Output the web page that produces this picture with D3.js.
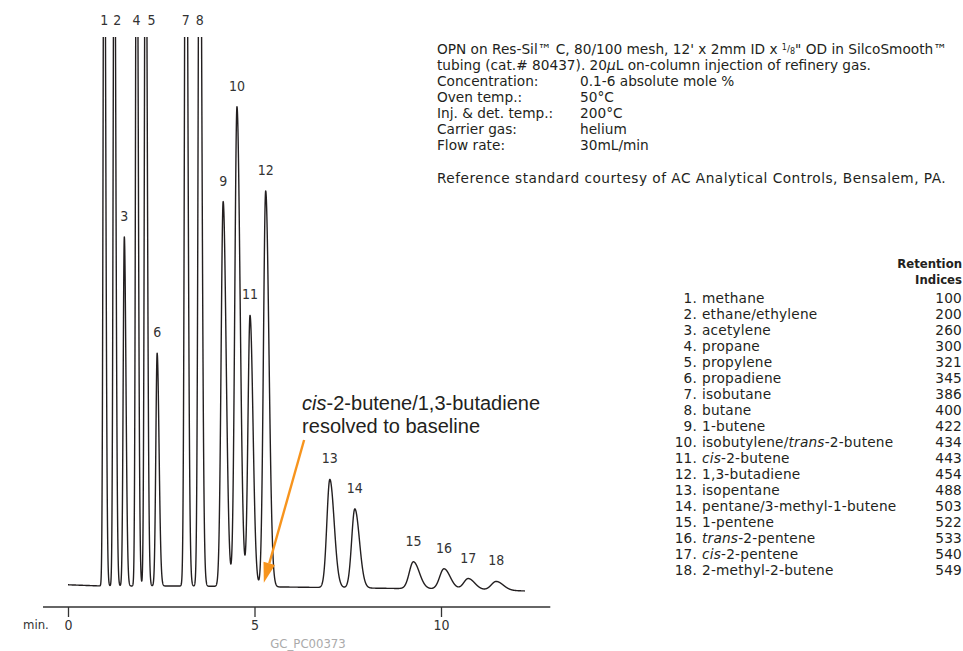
<!DOCTYPE html>
<html>
<head>
<meta charset="utf-8">
<script src="https://cdn.jsdelivr.net/npm/d3@7"></script>
<style>
body { margin: 0; background: #fff; }
svg text { font-family: "DejaVu Sans", sans-serif; fill: #231f20; }
svg text.cond { font-family: "DejaVu Sans Condensed", "DejaVu Sans", sans-serif; font-stretch: condensed; }
svg text.info { font-size: 13.7px; }
svg text.tbl { font-size: 13.7px; letter-spacing: 0.2px; }
svg text.note { font-family: "Liberation Sans", Arial, sans-serif; font-size: 20px; }
</style>
</head>
<body>
<svg id="chart" width="963" height="651"></svg>
<script>
// peaks (time in min, height in % of full scale)
var peakLabels = ["1","2","3","4","5","6","7","8","9","10","11","12","13","14","15","16","17","18"];
var retentionTimes = [0.97, 1.24, 1.51, 1.84, 2.08, 2.39, 3.16, 3.53, 4.16, 4.53, 4.88, 5.30, 7.02, 7.69, 9.26, 10.08, 10.73, 11.48];
var peakHeights = [150, 140, 63.6, 150, 145, 42.4, 160, 155, 70.1, 87.4, 49.4, 72.1, 19.7, 14.4, 4.9, 3.7, 2.0, 1.6];
var peakSigmas = [0.027, 0.028, 0.03, 0.028, 0.03, 0.035, 0.035, 0.038, 0.055, 0.058, 0.055, 0.06, 0.08, 0.085, 0.11, 0.115, 0.12, 0.13];

var baselineTimes = [0, 0.9, 3.0, 6.0, 8.5, 10.5, 12.25];
var baselineLevels = [0.22, 0, 0, -0.2, -0.42, -0.6, -0.9];

var axisTicks = [0, 5, 10];
var axisRange = [-0.67, 12.93];

var compoundNames = ["methane", "ethane/ethylene", "acetylene", "propane", "propylene", "propadiene",
    "isobutane", "butane", "1-butene", "isobutylene/*trans*-2-butene", "*cis*-2-butene", "1,3-butadiene",
    "isopentane", "pentane/3-methyl-1-butene", "1-pentene", "*trans*-2-pentene", "*cis*-2-pentene", "2-methyl-2-butene"];
var retentionIndices = [100, 200, 260, 300, 321, 345, 386, 400, 422, 434, 443, 454, 488, 503, 522, 533, 540, 549];

var conditionLabels = ["Concentration:", "Oven temp.:", "Inj. & det. temp.:", "Carrier gas:", "Flow rate:"];
var conditionValues = ["0.1-6 absolute mole %", "50°C", "200°C", "helium", "30mL/min"];

var svg = d3.select('#chart');
svg.append('rect').attr('width', 963).attr('height', 651).attr('fill', '#fff');

var x = d3.scaleLinear().domain([0, 10]).range([68, 441]);
var y = d3.scaleLinear().domain([0, 100]).range([586, 37]);

svg.append('clipPath').attr('id', 'plotclip')
    .append('rect').attr('x', 0).attr('y', y(100)).attr('width', 963).attr('height', 651 - y(100));

// trace = baseline + peaks
var base = d3.scaleLinear().domain(baselineTimes).range(baselineLevels);
var tailRatio = 1.45;

function signal(t) {
    var v = base(t);
    for (var i = 0; i < retentionTimes.length; i++) {
        var d = t - retentionTimes[i];
        var s = d < 0 ? peakSigmas[i] : peakSigmas[i] * tailRatio;
        if (Math.abs(d) < 10 * s) v += peakHeights[i] * Math.exp(-0.5 * d * d / (s * s));
    }
    return v;
}

var tEnd = baselineTimes[baselineTimes.length - 1];
var trace = d3.range(0, tEnd + 1e-9, 0.002).map(function(t){ return [t, signal(t)]; });

var line = d3.line()
    .x(function(d){ return x(d[0]); })
    .y(function(d){ return y(d[1]); });

svg.append('path')
    .datum(trace)
    .attr('clip-path', 'url(#plotclip)')
    .attr('d', line)
    .attr('fill', 'none')
    .attr('stroke', '#231f20')
    .attr('stroke-width', 1.4)
    .attr('stroke-linejoin', 'round');

// peak numbers (a couple nudged sideways so they don't collide)
var labelNudge = { "2": 3, "5": 6 };
svg.selectAll('.peaklabel')
    .data(peakLabels)
    .enter().append('text')
    .attr('class', 'peaklabel cond')
    .attr('x', function(d, i){ return x(retentionTimes[i]) + (labelNudge[d] || 0); })
    .attr('y', function(d, i){
        var top = peakHeights[i] + base(retentionTimes[i]);
        return top > 100 ? y(100) - 12 : y(top) - 16;
    })
    .attr('text-anchor', 'middle')
    .style('font-size', '14px')
    .style('fill', '#333')
    .text(function(d){ return d; });

// x axis
var axisY = 607;
svg.append('line')
    .attr('x1', x(axisRange[0])).attr('x2', x(axisRange[1]))
    .attr('y1', axisY).attr('y2', axisY)
    .attr('stroke', '#333').attr('stroke-width', 1.3);

var axis = d3.axisBottom(x).tickValues(axisTicks).tickSize(10).tickPadding(3);
var gAxis = svg.append('g').attr('transform', 'translate(0,' + axisY + ')').call(axis);
gAxis.select('.domain').remove();
gAxis.selectAll('.tick line').attr('stroke', '#333').attr('stroke-width', 1.3);
gAxis.selectAll('.tick text')
    .attr('class', 'cond')
    .style('font-size', '14px').style('fill', '#333');

svg.append('text')
    .attr('class', 'cond')
    .attr('x', x(axisRange[0]) - 20).attr('y', 629)
    .style('font-size', '13px').style('fill', '#333')
    .text('min.');

svg.append('text')
    .attr('class', 'cond')
    .attr('x', 308).attr('y', 647.5)
    .attr('text-anchor', 'middle')
    .style('font-size', '13px').style('fill', '#aaa')
    .text('GC_PC00373');

// annotation arrow
var arrowTail = [6.33, 26.6], arrowTip = [5.25, 0.6];
var ax1 = x(arrowTail[0]), ay1 = y(arrowTail[1]), ax2 = x(arrowTip[0]), ay2 = y(arrowTip[1]);
var ang = Math.atan2(ay2 - ay1, ax2 - ax1);
var headLen = 20, headW = 6;
var bx = ax2 - headLen * Math.cos(ang), by = ay2 - headLen * Math.sin(ang);
svg.append('line')
    .attr('x1', ax1).attr('y1', ay1).attr('x2', bx).attr('y2', by)
    .attr('stroke', '#f7941d').attr('stroke-width', 2.4);
svg.append('path')
    .attr('d', 'M' + ax2 + ',' + ay2 +
        'L' + (bx + headW * Math.sin(ang)) + ',' + (by - headW * Math.cos(ang)) +
        'L' + (bx - headW * Math.sin(ang)) + ',' + (by + headW * Math.cos(ang)) + 'Z')
    .attr('fill', '#f7941d');

var note = svg.append('g').attr('transform', 'translate(' + (ax1 - 2) + ',0)');
var n1 = note.append('text').attr('class', 'note').attr('x', 0).attr('y', 410);
n1.append('tspan').style('font-style', 'italic').text('cis');
n1.append('tspan').text('-2-butene/1,3-butadiene');
note.append('text').attr('class', 'note').attr('x', 0).attr('y', 433)
    .text('resolved to baseline');

// conditions text block
var info = svg.append('g');
var l1 = info.append('text').attr('class', 'info').attr('x', 437).attr('y', 54);
l1.append('tspan').text('OPN on Res-Sil™ C, 80/100 mesh, 12\' x 2mm ID x ');
l1.append('tspan').attr('dy', -4).style('font-size', '8px').text('1');
l1.append('tspan').attr('dy', 2).style('font-size', '9px').text('/');
l1.append('tspan').attr('dy', 2).style('font-size', '8px').text('8');
l1.append('tspan').text('" OD in SilcoSmooth™');
var l2 = info.append('text').attr('class', 'info').attr('x', 437).attr('y', 70);
l2.append('tspan').text('tubing (cat.# 80437). 20');
l2.append('tspan').style('font-style', 'italic').text('μ');
l2.append('tspan').text('L on-column injection of refinery gas.');

conditionLabels.forEach(function(lab, i){
    info.append('text').attr('class', 'info').attr('x', 437).attr('y', 86 + i * 16).text(lab);
    info.append('text').attr('class', 'info').attr('x', 580).attr('y', 86 + i * 16).text(conditionValues[i]);
});
info.append('text').attr('class', 'info').attr('x', 437).attr('y', 183)
    .style('letter-spacing', '0.48px')
    .text('Reference standard courtesy of AC Analytical Controls, Bensalem, PA.');

// compound table
var tbl = svg.append('g');
tbl.append('text').attr('class', 'cond').attr('x', 962).attr('y', 268).attr('text-anchor', 'end')
    .style('font-size', '13px').style('font-weight', 'bold').text('Retention');
tbl.append('text').attr('class', 'cond').attr('x', 962).attr('y', 284).attr('text-anchor', 'end')
    .style('font-size', '13px').style('font-weight', 'bold').text('Indices');

var rows = tbl.selectAll('.row').data(compoundNames).enter().append('g').attr('class', 'row')
    .attr('transform', function(d, i){ return 'translate(0,' + (303 + i * 16) + ')'; });
rows.append('text').attr('class', 'tbl').attr('x', 697).attr('text-anchor', 'end')
    .text(function(d, i){ return peakLabels[i] + '.'; });
rows.append('text').attr('class', 'tbl').attr('x', 702).each(function(d){
    var t = d3.select(this);
    d.split('*').forEach(function(part, k){
        if (part.length) t.append('tspan').style('font-style', k % 2 ? 'italic' : 'normal').text(part);
    });
});
rows.append('text').attr('class', 'tbl').attr('x', 962).attr('text-anchor', 'end')
    .text(function(d, i){ return retentionIndices[i]; });
</script>
</body>
</html>
